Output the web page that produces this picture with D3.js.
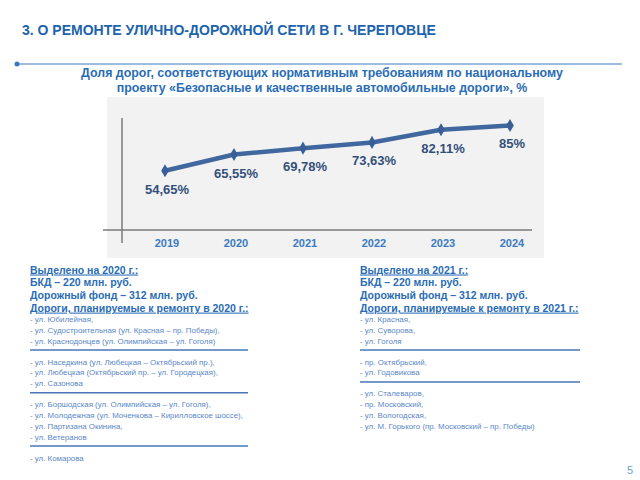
<!DOCTYPE html>
<html>
<head>
<meta charset="utf-8">
<script src="https://cdn.jsdelivr.net/npm/d3@7"></script>
<style>
  body { margin: 0; background: #fff; }
  text { font-family: "Liberation Sans", Arial, sans-serif; }
</style>
</head>
<body>
<svg id="chart" width="640" height="480"></svg>
<script>
const years = ["2019", "2020", "2021", "2022", "2023", "2024"];
const values = [54.65, 65.55, 69.78, 73.63, 82.11, 85];
const valueLabels = ["54,65%", "65,55%", "69,78%", "73,63%", "82,11%", "85%"];

const titleText = "3. О РЕМОНТЕ УЛИЧНО-ДОРОЖНОЙ СЕТИ В Г. ЧЕРЕПОВЦЕ";
const subtitleLines = [
    "Доля дорог, соответствующих нормативным требованиям по национальному",
    "проекту «Безопасные  и качественные автомобильные дороги», %"
];

const leftHeader = [
    {text: "Выделено на 2020 г.:", underline: true},
    {text: "БКД – 220 млн. руб.", underline: false},
    {text: "Дорожный фонд – 312 млн. руб.", underline: false},
    {text: "Дороги, планируемые к ремонту в 2020 г.:", underline: true}
];
const leftGroups = [
    ["- ул. Юбилейная,", "- ул. Судостроительная (ул. Красная – пр. Победы),", "- ул. Краснодонцев (ул. Олимпийская – ул. Гоголя)"],
    ["- ул. Наседкина (ул. Любецкая – Октябрьский пр.),", "- ул. Любецкая (Октябрьский пр. – ул. Городецкая),", "- ул. Сазонова"],
    ["- ул. Боршодская (ул. Олимпийская – ул. Гоголя),", "- ул. Молодежная (ул. Моченкова – Кирилловское шоссе),", "- ул. Партизана Окинина,", "- ул. Ветеранов"],
    ["- ул. Комарова"]
];

const rightHeader = [
    {text: "Выделено на 2021 г.:", underline: true},
    {text: "БКД – 220 млн. руб.", underline: false},
    {text: "Дорожный фонд – 312 млн. руб.", underline: false},
    {text: "Дороги, планируемые к ремонту в 2021 г.:", underline: true}
];
const rightGroups = [
    ["- ул. Красная,", "- ул. Суворова,", "- ул. Гоголя"],
    ["- пр. Октябрьский,", "- ул. Годовикова"],
    ["- ул. Сталеваров,", "- пр. Московский,", "- ул. Вологодская,", "- ул. М. Горького (пр. Московский – пр. Победы)"]
];

const svg = d3.select("#chart");
svg.append("rect").attr("width", 640).attr("height", 480).attr("fill", "#fff");

// title
svg.append("text")
    .attr("x", 22).attr("y", 35)
    .attr("font-size", "14px")
    .attr("font-weight", "bold")
    .attr("fill", "#2063ad")
    .text(titleText);

svg.append("line")
    .attr("x1", 17).attr("x2", 622).attr("y1", 64).attr("y2", 64)
    .attr("stroke", "#3a78c2").attr("stroke-width", 1.2);
svg.append("circle").attr("cx", 17).attr("cy", 64).attr("r", 2.5).attr("fill", "#3a78c2");

svg.selectAll(".subtitle")
    .data(subtitleLines)
    .enter().append("text")
    .attr("class", "subtitle")
    .attr("x", 322)
    .attr("y", (d, i) => 77 + i * 15)
    .attr("text-anchor", "middle")
    .attr("font-size", "12.4px")
    .attr("font-weight", "bold")
    .attr("fill", "#2a6db5")
    .text(d => d);

// chart panel
svg.append("rect")
    .attr("x", 107).attr("y", 97).attr("width", 437).attr("height", 161)
    .attr("fill", "#f2f2f2");

const x = d3.scalePoint().domain(years).range([165, 510]);
const y = d3.scaleLinear().domain([15, 90]).range([230, 118]);

svg.append("line")
    .attr("x1", 122).attr("x2", 122).attr("y1", y(90)).attr("y2", 243)
    .attr("stroke", "#7a7a7a").attr("stroke-width", 1.5);
svg.append("line")
    .attr("x1", 103).attr("x2", 532).attr("y1", y(15)).attr("y2", y(15))
    .attr("stroke", "#7a7a7a").attr("stroke-width", 1.5);

const line = d3.line()
    .x((d, i) => x(years[i]))
    .y(d => y(d));

svg.append("path")
    .datum(values)
    .attr("d", line)
    .attr("fill", "none")
    .attr("stroke", "#41679f")
    .attr("stroke-width", 4.5)
    .attr("stroke-linejoin", "round");

svg.selectAll(".marker")
    .data(values)
    .enter().append("path")
    .attr("class", "marker")
    .attr("d", d3.symbol().type(d3.symbolDiamond).size(50))
    .attr("transform", (d, i) => `translate(${x(years[i])},${y(d)})`)
    .attr("fill", "#3a5f96");

svg.selectAll(".vlabel")
    .data(values)
    .enter().append("text")
    .attr("class", "vlabel")
    .attr("x", (d, i) => x(years[i]) + 2)
    .attr("y", d => y(d) + 23)
    .attr("text-anchor", "middle")
    .attr("font-family", "Lato, 'Open Sans', sans-serif")
    .attr("font-size", "13px")
    .attr("font-weight", "bold")
    .attr("fill", "#34507a")
    .text((d, i) => valueLabels[i]);

svg.selectAll(".year")
    .data(years)
    .enter().append("text")
    .attr("class", "year")
    .attr("x", d => x(d) + 2)
    .attr("y", 247)
    .attr("text-anchor", "middle")
    .attr("font-family", "Lato, 'Open Sans', sans-serif")
    .attr("font-size", "11px")
    .attr("font-weight", "bold")
    .attr("fill", "#3b7bc2")
    .text(d => d);

// text blocks
function drawBlock(x0, header, groups, ruleWidth) {
    const g = svg.append("g");
    let yy = 273.5;
    header.forEach(h => {
        g.append("text")
            .attr("x", x0).attr("y", yy)
            .attr("font-size", "10.5px")
            .attr("font-weight", "bold")
            .attr("fill", "#2a6cb5")
            .attr("text-decoration", h.underline ? "underline" : null)
            .text(h.text);
        yy += 12.7;
    });
    yy -= 2.3;
    groups.forEach((grp, gi) => {
        grp.forEach(t => {
            g.append("text")
                .attr("x", x0).attr("y", yy)
                .attr("font-size", "7.9px")
                .attr("fill", "#5a88c6")
                .text(t);
            yy += 10.8;
        });
        if (gi < groups.length - 1) {
            // rule sits a little under the last line of the group
            const ry = yy - 10.8 + 6.5;
            g.append("line")
                .attr("x1", x0).attr("x2", x0 + ruleWidth)
                .attr("y1", ry).attr("y2", ry)
                .attr("stroke", "#4a76b8").attr("stroke-width", 1.5);
            yy += 10.2;
        }
    });
}
drawBlock(30, leftHeader, leftGroups, 218);
drawBlock(360, rightHeader, rightGroups, 220);

svg.append("text")
    .attr("x", 633).attr("y", 474)
    .attr("text-anchor", "end")
    .attr("font-size", "11px")
    .attr("fill", "#6a9fd8")
    .text("5");
</script>
</body>
</html>
